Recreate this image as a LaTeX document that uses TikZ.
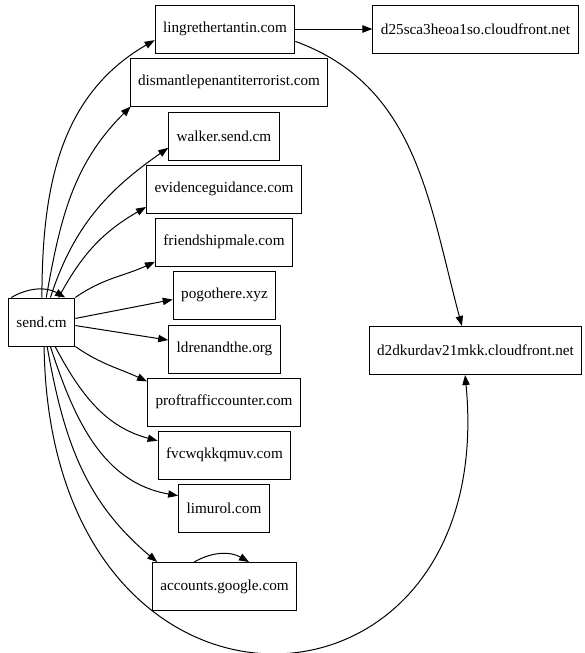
\documentclass[tikz,border=0pt]{standalone}
\usepackage{fontspec}
\setmainfont{Liberation Serif}
\usetikzlibrary{arrows.meta}

\tikzset{
  site/.style={draw, line width=0.75pt, rectangle, minimum height=36pt,
    minimum width=50pt, inner xsep=6pt, font=\fontsize{11.4}{13.7}\selectfont},
  link/.style={line width=0.75pt, -{Triangle[length=7.5pt,width=5.5pt]}}
}

\begin{document}
\begin{tikzpicture}[x=0.75pt, y=-0.75pt]
  \useasboundingbox (0,0) rectangle (585,653);
  % Hosts
  \node[site] (send) at (41.5,322) {send.cm};
  \node[site] (lingre) at (225,29) {lingrethertantin.com};
  \node[site] (dtwofive) at (475.5,29) {d25sca3heoa1so.cloudfront.net};
  \node[site] (dismantle) at (229,82) {dismantlepenantiterrorist.com};
  \node[site] (walker) at (224,136) {walker.send.cm};
  \node[site] (evidence) at (224,189) {evidenceguidance.com};
  \node[site] (friend) at (224,242) {friendshipmale.com};
  \node[site] (pogo) at (224.5,295) {pogothere.xyz};
  \node[site] (ldren) at (224.5,349) {ldrenandthe.org};
  \node[site] (proft) at (224,402) {proftrafficcounter.com};
  \node[site] (fvcw) at (224.5,455) {fvcwqkkqmuv.com};
  \node[site] (limurol) at (224,508) {limurol.com};
  \node[site] (google) at (224.5,586.5) {accounts.google.com};
  \node[site] (dtwod) at (475.5,350.5) {d2dkurdav21mkk.cloudfront.net};
  % Links from send.cm
  \draw[link] (send.141) to[out=30,in=150] (send.46);
  \draw[link] (send.89) to[out=90,in=210] (lingre.189);
  \draw[link] (send.79) to[out=80,in=225] (dismantle.194);
  \draw[link] (send.70) to[out=72,in=215] (walker.192);
  \draw[link] (send.55) to[out=62,in=210] (evidence.193);
  \draw[link] (send.north east) to[out=35,in=205] (friend.196);
  \draw[link] (send.6) -- (pogo.185);
  \draw[link] (send.-6) -- (ldren.171);
  \draw[link] (send.south east) to[out=-35,in=155] (proft.165);
  \draw[link] (send.-61) to[out=-62,in=165] (fvcw.168);
  \draw[link] (send.-70) to[out=-72,in=170] (limurol.165);
  \draw[link] (send.-77) to[out=-80,in=140] (google.160);
  \draw[link] (send.-84) .. controls (50,760) and (500,740) .. (dtwod.247);
  % Other links
  \draw[link] (lingre) -- (dtwofive);
  \draw[link] (lingre.-10) to[out=-20,in=105] (dtwod.119);
  \draw[link] (google.141) to[out=30,in=150] (google.45);
\end{tikzpicture}
\end{document}
